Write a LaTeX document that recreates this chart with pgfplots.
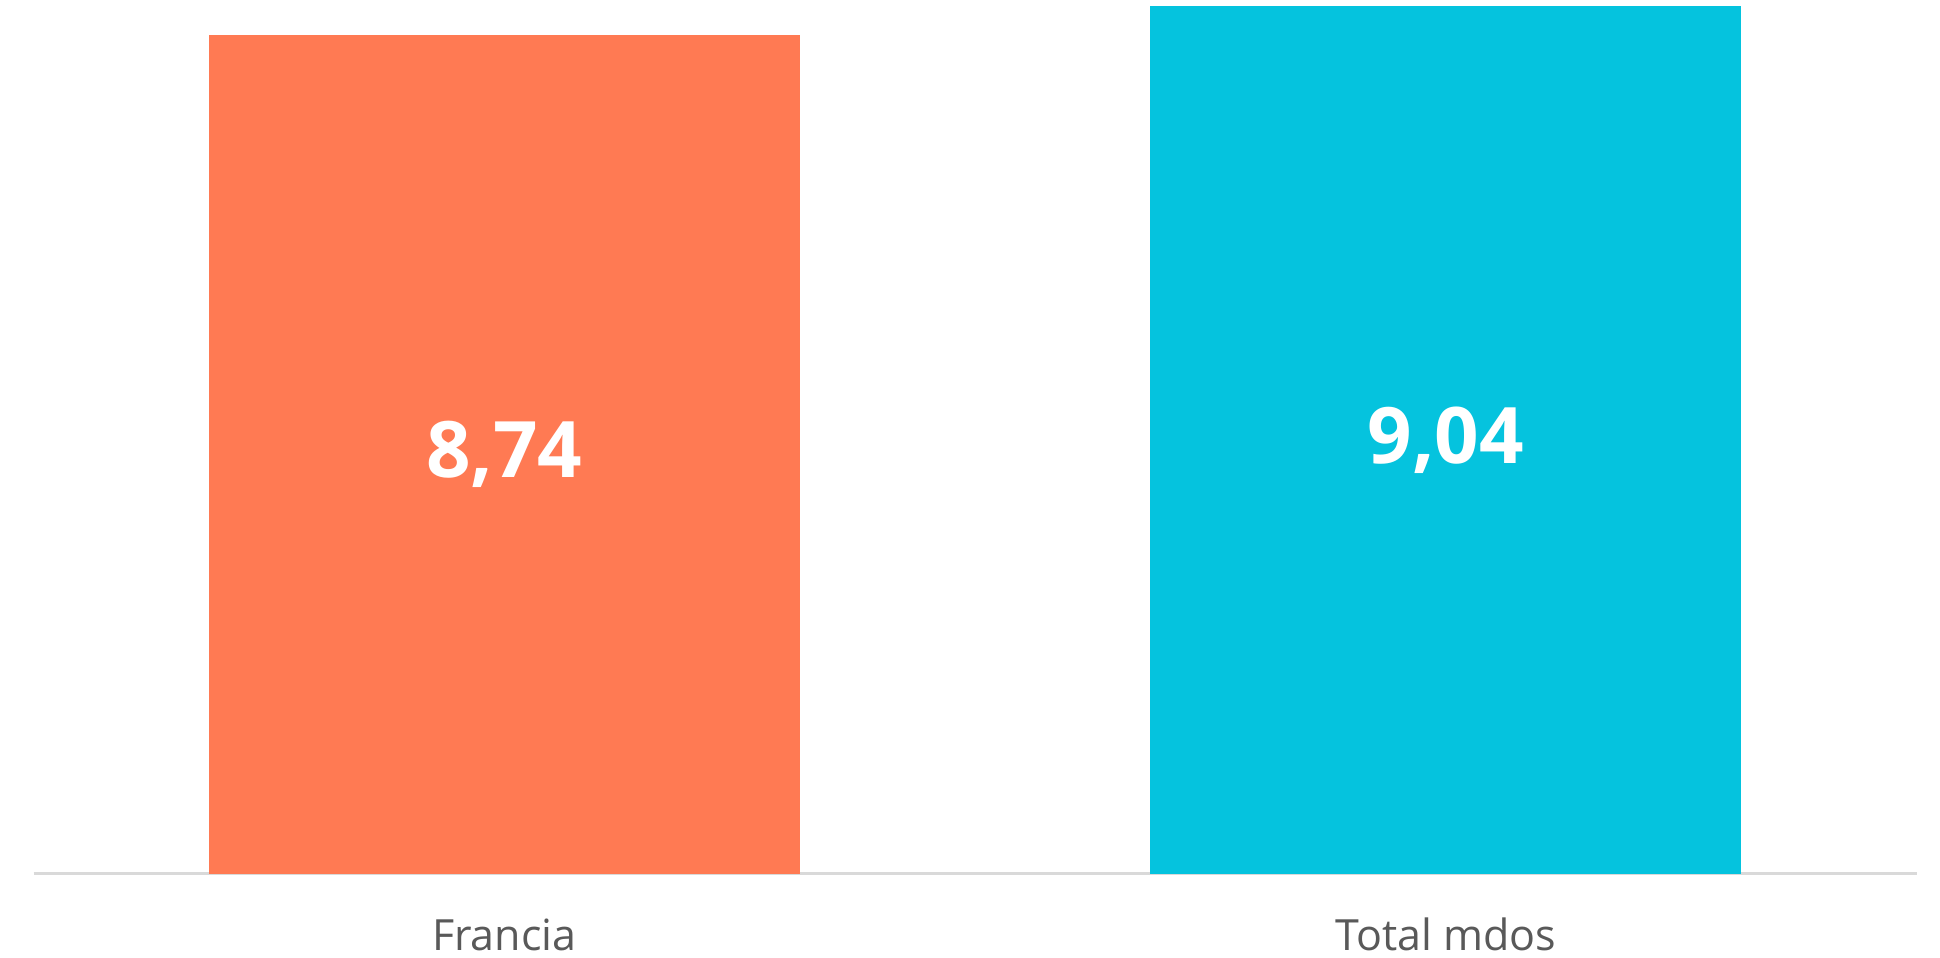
\documentclass[border=0pt]{standalone}
\usepackage{fontspec}
\setmainfont{Open Sans}
\usepackage{pgfplots}
\pgfplotsset{compat=1.18}
\definecolor{corange}{RGB}{255,122,83}
\definecolor{ccyan}{RGB}{5,195,222}
\definecolor{ctext}{RGB}{89,89,89}
\definecolor{caxis}{RGB}{217,217,217}
\begin{document}
\begin{tikzpicture}
\begin{axis}[
  scale only axis, width=941.5pt, height=437pt,
  xmin=-0.5, xmax=1.5, ymin=0, ymax=9.1,
  axis x line*=bottom, axis y line=none,
  x axis line style={-, draw=caxis, line width=1.5pt},
  xtick={0,1}, xticklabels={Francia, Total mdos},
  major tick length=0pt,
  xticklabel style={font=\fontsize{21.5}{26}\selectfont, text=ctext, anchor=base, yshift=-38.5pt},
  clip=false,
]
\addplot[ybar, bar width=295.5pt, bar shift=0pt, fill=corange, draw=none] coordinates {(0,8.74)};
\addplot[ybar, bar width=295.5pt, bar shift=0pt, fill=ccyan, draw=none] coordinates {(1,9.04)};
\addplot[draw=none, mark=none, point meta=explicit,
  nodes near coords={\pgfmathprintnumber[fixed,fixed zerofill,precision=2,use comma,assume math mode=true]{\pgfplotspointmeta}},
  every node near coord/.style={anchor=center, font=\bfseries\fontsize{39}{46}\selectfont, text=white}]
  coordinates {(0,4.37) [8.74] (1,4.52) [9.04]};
\coordinate (ll) at (rel axis cs:0,0);
\coordinate (ur) at (rel axis cs:1,1);
\end{axis}
\pgfresetboundingbox
\useasboundingbox ([xshift=-16.75pt,yshift=-42pt]ll) rectangle ([xshift=11.75pt]ur);
\end{tikzpicture}
\end{document}
